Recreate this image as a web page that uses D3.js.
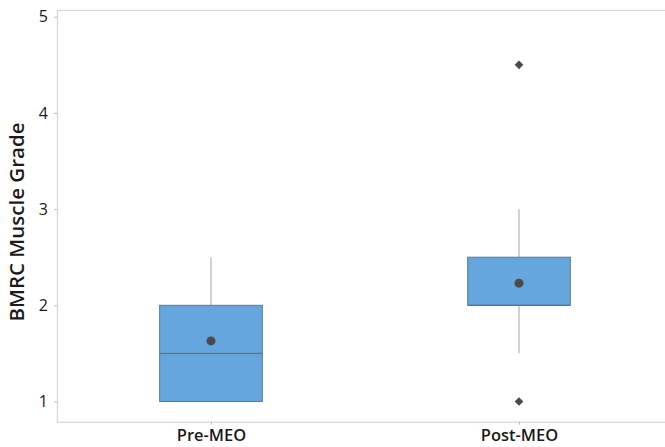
<!DOCTYPE html>
<html><head><meta charset="utf-8">
<script src="https://cdn.jsdelivr.net/npm/d3@7"></script>
<style>body{margin:0;background:#fff}svg{display:block}text{font-family:"Open Sans","Noto Sans",sans-serif}</style>
</head><body><svg id="c" width="665" height="447"></svg>
<script>
const categories = ["Pre-MEO", "Post-MEO"];
const q1 = [1.0, 2.0];
const median = [1.5, 2.0];
const q3 = [2.0, 2.5];
const whiskerLow = [1.0, 1.5];
const whiskerHigh = [2.5, 3.0];
const means = [1.63, 2.23];
const outliers = [[], [4.5, 1.0]];
const yTicks = [1, 2, 3, 4, 5];
const yTitle = "BMRC Muscle Grade";

const svg = d3.select("#c");
const L = 57, T = 10, R = 673, B = 421.7;
const y = d3.scaleLinear().domain([0.79, 5.07]).range([B, T]);
const x = d3.scalePoint().domain(categories).range([L, R]).padding(0.5);
const bw = x.step() / 3;

// frame
svg.append("rect").attr("x", L + 0.5).attr("y", T + 0.5).attr("width", R - L).attr("height", B - T)
  .attr("fill", "none").attr("stroke", "#d9d9d9").attr("stroke-width", 1.3);

// y axis
const ya = svg.append("g").attr("transform", `translate(${L},0)`)
  .call(d3.axisLeft(y).tickValues(yTicks).tickSize(3).tickPadding(6).tickFormat(d3.format("d")));
ya.select(".domain").remove();
ya.selectAll(".tick line").attr("stroke", "#bdbdbd");
ya.selectAll(".tick text").attr("font-size", 16).attr("fill", "#1a1a1a").attr("font-weight", 500);

// x axis
const xa = svg.append("g").attr("transform", `translate(0,${B})`)
  .call(d3.axisBottom(x).tickSize(3).tickPadding(5));
xa.select(".domain").remove();
xa.selectAll(".tick line").attr("stroke", "#bdbdbd");
xa.selectAll(".tick text").attr("font-size", 16.5).attr("fill", "#1a1a1a").attr("font-weight", 600);

svg.append("text").attr("transform", `translate(24,222) rotate(-90)`)
  .attr("text-anchor", "middle").attr("font-size", 20.5).attr("fill", "#1a1a1a").attr("font-weight", 600)
  .text(yTitle);

const g = svg.append("g");
categories.forEach((c, i) => {
  const cx = x(c);
  g.append("line").attr("x1", cx).attr("x2", cx).attr("y1", y(q3[i])).attr("y2", y(whiskerHigh[i]))
    .attr("stroke", "#a6a6a6").attr("stroke-width", 1);
  g.append("line").attr("x1", cx).attr("x2", cx).attr("y1", y(q1[i])).attr("y2", y(whiskerLow[i]))
    .attr("stroke", "#a6a6a6").attr("stroke-width", 1);
  g.append("rect").attr("x", cx - bw / 2).attr("y", y(q3[i])).attr("width", bw)
    .attr("height", y(q1[i]) - y(q3[i])).attr("fill", "#64a6dd").attr("stroke", "#5b7a93").attr("stroke-width", 1);
  g.append("line").attr("x1", cx - bw / 2).attr("x2", cx + bw / 2).attr("y1", y(median[i])).attr("y2", y(median[i]))
    .attr("stroke", "#4f6f8a").attr("stroke-width", 1);
  g.append("circle").attr("cx", cx).attr("cy", y(means[i])).attr("r", 4.5).attr("fill", "#4a4a4a");
  outliers[i].forEach(v => {
    g.append("path").attr("d", d3.symbol(d3.symbolSquare, 38)()).attr("transform", `translate(${cx},${y(v)}) rotate(45)`)
      .attr("fill", "#4a4a4a");
  });
});
</script></body></html>
